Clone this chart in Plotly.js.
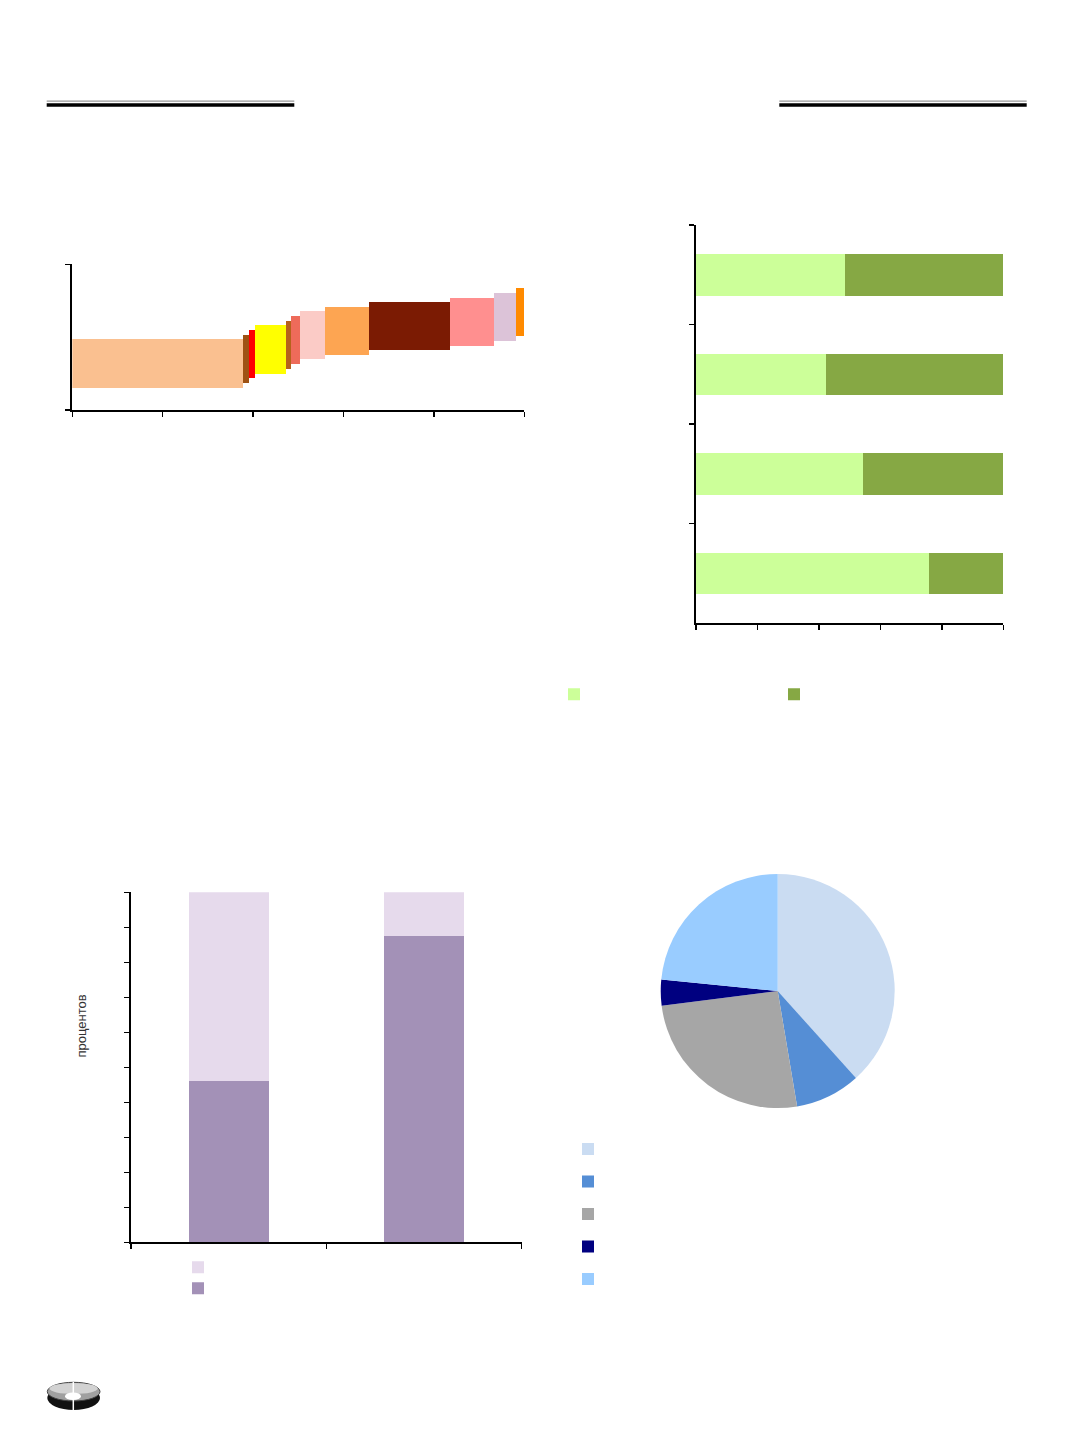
<!DOCTYPE html>
<html><head><meta charset="utf-8">
<script src="https://cdn.plot.ly/plotly-3.0.1.min.js"></script>
<style>html,body{margin:0;padding:0;background:#fff}#chart{width:1072px;height:1433px}</style>
</head><body><div id="chart"></div>
<script>
// ---- Chart 1: variable-width floating bars ----
const segWidths  = [37.8, 1.2, 1.5, 6.8, 1.0, 2.1, 5.5, 9.8, 17.9, 9.8, 4.8, 1.8];
const segBases   = [15.3, 18.5, 21.7, 24.9, 28.1, 31.3, 34.7, 37.9, 41.1, 43.6, 47.5, 50.7];
const segHeights = [33.1, 33.1, 33.1, 33.1, 33.1, 33.1, 33.1, 33.1, 33.1, 33.1, 33.1, 33.1];
const segColors  = ['#FAC090','#9E5214','#FF0000','#FFFF00','#B5621C','#EE6B5A',
                    '#FBCBC6','#FDA552','#7B1B03','#FF8F8F','#DCC3D8','#FF8A00'];

// ---- Chart 2: horizontal 100% stacked bars ----
const hCategories = ['1', '2', '3', '4'];
const hShareA = [75.9, 54.4, 42.3, 48.4];
const hShareB = [24.1, 45.6, 57.7, 51.6];

// ---- Chart 3: vertical 100% stacked bars ----
const vCategories = ['1', '2'];
const vLower = [46.2, 87.6];
const vUpper = [53.8, 12.4];

// ---- Chart 4: pie ----
const pieValues = [38.3, 9.0, 25.6, 3.6, 23.4];
const pieLabels = ['\u00a0', '\u00a0\u00a0', '\u00a0\u00a0\u00a0', '\u00a0\u00a0\u00a0\u00a0', '\u00a0\u00a0\u00a0\u00a0\u00a0'];
const pieColors = ['#CADCF2', '#558ED5', '#A6A6A6', '#000080', '#99CCFF'];

const W = 1072, H = 1433;
const px = v => v / W;
const py = v => 1 - v / H;

// centres of the variable-width bars from their widths
const segCenters = [];
let acc = 0;
segWidths.forEach(w => { segCenters.push(acc + w / 2); acc += w; });

const traces = [
  {type:'bar', x:segCenters, y:segHeights, base:segBases, width:segWidths,
   marker:{color:segColors, line:{width:0}}, xaxis:'x', yaxis:'y', showlegend:false, hoverinfo:'skip'},

  {type:'bar', orientation:'h', y:hCategories, x:hShareA, width:0.417, name:'\u00a0',
   marker:{color:'#CCFF99', line:{width:0}}, xaxis:'x2', yaxis:'y2', legend:'legend2', hoverinfo:'skip'},
  {type:'bar', orientation:'h', y:hCategories, x:hShareB, width:0.417, name:'\u00a0',
   marker:{color:'#86A844', line:{width:0}}, xaxis:'x2', yaxis:'y2', legend:'legend3', hoverinfo:'skip'},

  {type:'bar', x:vCategories, y:vLower, width:0.41, name:'\u00a0',
   marker:{color:'#A391B7', line:{width:0}}, xaxis:'x3', yaxis:'y3', legend:'legend5', hoverinfo:'skip'},
  {type:'bar', x:vCategories, y:vUpper, width:0.41, name:'\u00a0',
   marker:{color:'#E6DAEC', line:{width:0}}, xaxis:'x3', yaxis:'y3', legend:'legend4', hoverinfo:'skip'},

  {type:'pie', values:pieValues, labels:pieLabels, sort:false, direction:'clockwise', rotation:0,
   marker:{colors:pieColors, line:{width:0}}, textinfo:'none', hoverinfo:'skip',
   domain:{x:[px(660.7), px(894.7)], y:[py(1108), py(874)]}, legend:'legend6'}
];

const ax = {showline:true, linecolor:'#000', linewidth:2, ticks:'outside', ticklen:5,
            tickwidth:1.5, tickcolor:'#000', showticklabels:false, showgrid:false,
            zeroline:false, fixedrange:true};

function leg(cx, cy, size) {
  return {x:px(cx - 20), y:py(cy - (size * 1.3 + 3) / 2 - 4), xanchor:'left', yanchor:'top',
          bgcolor:'rgba(0,0,0,0)', borderwidth:0, font:{size:size, color:'#000'},
          orientation:'v', traceorder:'normal'};
}

const layout = {
  width:W, height:H, margin:{l:0, r:0, t:0, b:0},
  paper_bgcolor:'#fff', plot_bgcolor:'rgba(0,0,0,0)',
  barmode:'stack', showlegend:true,
  font:{family:'Liberation Sans, Arial, sans-serif'},
  xaxis: Object.assign({}, ax, {domain:[px(72.3), px(524.3)], range:[0,100], dtick:20, anchor:'y'}),
  yaxis: Object.assign({}, ax, {domain:[py(410), py(264.3)], range:[0,100], dtick:100, anchor:'x'}),
  xaxis2:Object.assign({}, ax, {domain:[px(696), px(1003.3)], range:[0,100], dtick:20, anchor:'y2'}),
  yaxis2:Object.assign({}, ax, {domain:[py(623.3), py(225)], type:'category', range:[-0.5,3.5],
                                 tickson:'boundaries', anchor:'x2'}),
  xaxis3:Object.assign({}, ax, {domain:[px(131), px(521.7)], type:'category', range:[-0.5,1.5],
                                 tickson:'boundaries', anchor:'y3'}),
  yaxis3:Object.assign({}, ax, {domain:[py(1242.3), py(892.3)], range:[0,100], dtick:10, anchor:'x3'}),
  legend2: leg(574, 693, 12),
  legend3: leg(794, 693, 12),
  legend4: leg(198, 1266, 12),
  legend5: leg(198, 1287, 12),
  legend6: leg(588, 1148, 22.7),
  annotations:[
    {text:'процентов', x:px(80.5), y:py(1026), xref:'paper', yref:'paper', showarrow:false,
     textangle:-90, font:{size:13, color:'#333'}, xanchor:'center', yanchor:'middle'}
  ],
  shapes:[
    {type:'line', xref:'paper', yref:'paper', x0:px(46.7), x1:px(294.3), y0:py(101.2), y1:py(101.2), line:{color:'#9a9a9a', width:1.2}},
    {type:'line', xref:'paper', yref:'paper', x0:px(46.7), x1:px(294.3), y0:py(105), y1:py(105), line:{color:'#000', width:3.3}},
    {type:'line', xref:'paper', yref:'paper', x0:px(779.3), x1:px(1026.7), y0:py(101.2), y1:py(101.2), line:{color:'#9a9a9a', width:1.2}},
    {type:'line', xref:'paper', yref:'paper', x0:px(779.3), x1:px(1026.7), y0:py(105), y1:py(105), line:{color:'#000', width:3.3}},
    // logo
    {type:'circle', xref:'paper', yref:'paper', x0:px(47.3), x1:px(100), y0:py(1410), y1:py(1386), fillcolor:'#111', line:{width:0}},
    {type:'circle', xref:'paper', yref:'paper', x0:px(47.3), x1:px(100), y0:py(1401), y1:py(1382.3), fillcolor:'#a0a0a0', line:{color:'#444', width:1}},
    {type:'circle', xref:'paper', yref:'paper', x0:px(49.5), x1:px(97.8), y0:py(1394), y1:py(1383), fillcolor:'#d2d2d2', line:{width:0}},
    {type:'circle', xref:'paper', yref:'paper', x0:px(65), x1:px(81), y0:py(1400), y1:py(1392.5), fillcolor:'#fff', line:{width:0}},
    {type:'line', xref:'paper', yref:'paper', x0:px(73.3), x1:px(73.3), y0:py(1410), y1:py(1382), line:{color:'#fff', width:1.5}}
  ]
};

Plotly.newPlot('chart', traces, layout, {staticPlot:true, displayModeBar:false});
</script>
</body></html>
